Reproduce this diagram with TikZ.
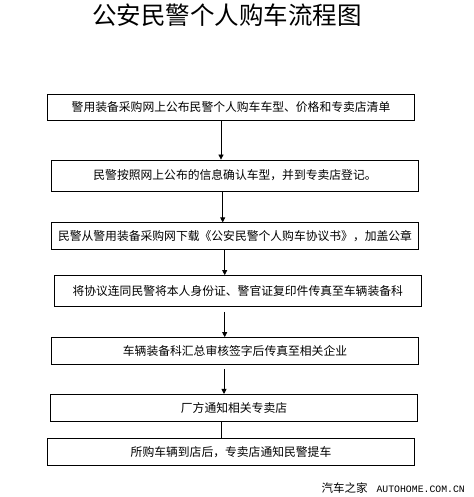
\documentclass[tikz,border=0pt]{standalone}
\usepackage{fontspec}
\setmainfont{Liberation Serif}
\newfontfamily\cjk{Noto Sans CJK SC}
\newfontfamily\monofnt{Liberation Mono}
\usetikzlibrary{arrows.meta}
\begin{document}
\begin{tikzpicture}[x=1pt,y=-1pt,
  stepbox/.style={draw=black,line width=0.8pt,minimum width=366.5pt,inner sep=0pt,font=\cjk\fontsize{11.8}{12}\selectfont},
  flow/.style={line width=0.8pt,-{Triangle[length=5pt,width=5pt]}},
  plainline/.style={line width=0.8pt}]
\useasboundingbox[fill=white] (0,0) rectangle (473,497);
\node[font=\cjk\fontsize{24.5}{26}\selectfont] (title) at (227,15) {公安民警个人购车流程图};
\node[stepbox,minimum height=26pt] (b1) at (231,107) {警用装备采购网上公布民警个人购车车型、价格和专卖店清单};
\node[stepbox,minimum height=31pt] (b2) at (235,175.5) {民警按照网上公布的信息确认车型，并到专卖店登记。};
\node[stepbox,minimum height=26.5pt] (b3) at (235,236) {民警从警用装备采购网下载《公安民警个人购车协议书》，加盖公章};
\node[stepbox,minimum height=31pt] (b4) at (237.7,291) {将协议连同民警将本人身份证、警官证复印件传真至车辆装备科};
\node[stepbox,minimum height=27pt] (b5) at (235,351) {车辆装备科汇总审核签字后传真至相关企业};
\node[stepbox,minimum height=26.7pt] (b6) at (234,407.7) {厂方通知相关专卖店};
\node[stepbox,minimum height=26.3pt] (b7) at (231,452) {所购车辆到店后，专卖店通知民警提车};
\node[anchor=east,inner sep=0pt] (wm) at (465,488) {{\cjk\fontsize{11.5}{12}\selectfont 汽车之家}\hspace{9pt}{\monofnt\fontsize{9.8}{11}\selectfont AUTOHOME.COM.CN}};
\coordinate (x1) at (221,0);
\coordinate (x2) at (222.7,0);
\coordinate (x3) at (224.7,0);
\coordinate (x5) at (224,0);
\coordinate (x6) at (221.3,0);
\draw[flow] (b1.south -| x1) -- (b2.north -| x1);
\draw[flow] (b2.south -| x2) -- (b3.north -| x2);
\draw[flow] (b3.south -| x3) -- (b4.north -| x3);
\draw[flow,shorten <=5pt] (b4.south -| x3) -- (b5.north -| x3);
\draw[flow,shorten <=4pt] (b5.south -| x5) -- (b6.north -| x5);
\draw[plainline] (b6.south -| x6) -- (b7.north -| x6);
\end{tikzpicture}
\end{document}
